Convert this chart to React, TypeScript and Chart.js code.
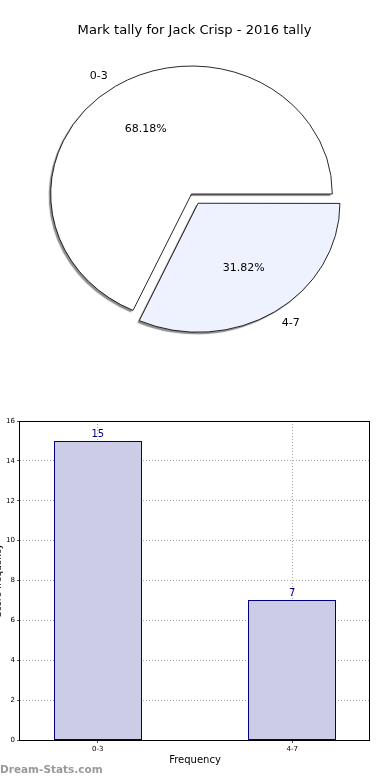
import { useEffect, useRef } from 'react';
import { Chart, registerables } from 'chart.js';

Chart.register(...registerables);

const TITLE = 'Mark tally for Jack Crisp - 2016 tally';
const categories = ['0-3', '4-7'];
const counts = [15, 7];
const pieColors = ['#ffffff', '#edf2fe'];
const explode = [0, 44];
const yTickStep = 2;
const yMax = 16;
const xAxisTitle = 'Frequency';
const yAxisTitle = 'Score frequency';
const WATERMARK = 'Dream-Stats.com';

const FONT = '"DejaVu Sans", "Liberation Sans", sans-serif';
const X_STRETCH = 1.1;
const OFFSET_FACTOR = 0.25;

const total = counts.reduce((a, b) => a + b, 0);
// pie drawn clockwise from 3 o'clock, so reverse to mimic counter-clockwise order
const pieLabels = [...categories].reverse();
const pieValues = [...counts].reverse();
const pieFill = [...pieColors].reverse();
const pieOffsets = [...explode].reverse();

const piePlugin = {
  id: 'ellipsePie',
  beforeDatasetsDraw(chart: any) {
    const meta = chart.getDatasetMeta(0);
    const a = meta.data[0];
    const ctx = chart.ctx;
    ctx.save();
    ctx.translate(a.x, a.y);
    ctx.scale(X_STRETCH, 1);
    ctx.translate(-a.x, -a.y);
    ctx.shadowColor = 'rgba(0,0,0,0.45)';
    ctx.shadowOffsetX = -2;
    ctx.shadowOffsetY = 2;
    ctx.shadowBlur = 1;
    // shadows only for fills, not for outlines
    const origStroke = ctx.stroke;
    (chart as any).$origStroke = origStroke;
    ctx.stroke = function (...args: any[]) {
      const sc = this.shadowColor;
      this.shadowColor = 'rgba(0,0,0,0)';
      origStroke.apply(this, args);
      this.shadowColor = sc;
    };
  },
  afterDatasetsDraw(chart: any) {
    const ctx = chart.ctx;
    if ((chart as any).$origStroke) {
      ctx.stroke = (chart as any).$origStroke;
      delete (chart as any).$origStroke;
    }
    ctx.restore();
    const meta = chart.getDatasetMeta(0);
    const ds = chart.data.datasets[0];
    ctx.save();
    ctx.font = `11px ${FONT}`;
    ctx.fillStyle = '#000';
    ctx.textBaseline = 'middle';
    meta.data.forEach((arc: any, i: number) => {
      const { x, y, startAngle, endAngle, outerRadius } = arc.getProps(
        ['x', 'y', 'startAngle', 'endAngle', 'outerRadius'],
        true
      );
      const mid = (startAngle + endAngle) / 2;
      const c = Math.cos(mid);
      const s = Math.sin(mid);
      const off = (ds.offset[i] || 0) * OFFSET_FACTOR;
      const cx = x + c * off * X_STRETCH;
      const cy = y + s * off;
      ctx.textAlign = c >= 0 ? 'left' : 'right';
      ctx.fillText(
        chart.data.labels[i],
        cx + c * outerRadius * 1.1 * X_STRETCH,
        cy + s * outerRadius * 1.1 + 1
      );
      ctx.textAlign = 'center';
      const pct = ((ds.data[i] / total) * 100).toFixed(2) + '%';
      ctx.fillText(pct, cx + c * outerRadius * 0.6 * X_STRETCH, cy + s * outerRadius * 0.6);
    });
    ctx.restore();
  },
};

const framePlugin = {
  id: 'frame',
  afterDatasetsDraw(chart: any) {
    const { ctx, chartArea } = chart;
    const meta = chart.getDatasetMeta(0);
    ctx.save();
    ctx.lineWidth = 1;
    // crisp bar outlines
    ctx.strokeStyle = '#000080';
    meta.data.forEach((bar: any) => {
      const { x, y, base, width } = bar.getProps(['x', 'y', 'base', 'width'], true);
      const l = Math.round(x - width / 2) + 0.5;
      const r = Math.round(x + width / 2) - 0.5;
      const t = Math.round(y) + 0.5;
      const b = Math.round(base) - 0.5;
      ctx.strokeRect(l, t, r - l, b - t);
    });
    ctx.strokeStyle = '#000';
    ctx.strokeRect(
      Math.round(chartArea.left) - 0.5,
      Math.round(chartArea.top) + 0.5,
      Math.round(chartArea.right - chartArea.left),
      Math.round(chartArea.bottom - chartArea.top)
    );
    ctx.restore();
  },
};

const valuePlugin = {
  id: 'values',
  afterDraw(chart: any) {
    const { ctx } = chart;
    const meta = chart.getDatasetMeta(0);
    ctx.save();
    ctx.font = `10px ${FONT}`;
    ctx.fillStyle = '#000080';
    ctx.textAlign = 'center';
    ctx.textBaseline = 'bottom';
    meta.data.forEach((bar: any, i: number) => {
      ctx.fillText(String(counts[i]), bar.x, bar.y - 2);
    });
    ctx.restore();
  },
};

export default function App() {
  const pieRef = useRef<HTMLCanvasElement>(null);
  const barRef = useRef<HTMLCanvasElement>(null);

  useEffect(() => {
    const pie = new Chart(pieRef.current!, {
      type: 'pie',
      data: {
        labels: pieLabels,
        datasets: [
          {
            data: pieValues,
            backgroundColor: pieFill,
            borderColor: '#000',
            borderWidth: 0.8,
            borderJoinStyle: 'miter',
            offset: pieOffsets,
            hoverOffset: 0,
          } as any,
        ],
      },
      options: {
        animation: false,
        responsive: false,
        rotation: 90,
        radius: 128,
        events: [],
        layout: { padding: { top: 37.6, left: 0, right: 7, bottom: 39.6 } },
        plugins: {
          legend: { display: false },
          tooltip: { enabled: false },
          title: { display: false },
        },
      } as any,
      plugins: [piePlugin],
    });

    const gridCommon = {
      color: 'rgba(0,0,0,0.35)',
      tickLength: 3,
      tickColor: '#555',
      tickBorderDash: [],
    };

    const bar = new Chart(barRef.current!, {
      type: 'bar',
      data: {
        datasets: [
          {
            data: counts.map((v, i) => ({ x: i, y: v })),
            backgroundColor: '#ccccE6',
            borderWidth: 0,
            barPercentage: 0.45,
            categoryPercentage: 1,
          } as any,
        ],
      },
      options: {
        animation: false,
        responsive: false,
        events: [],
        layout: { padding: { top: 21, right: 20, left: 0, bottom: 0 } },
        plugins: { legend: { display: false }, tooltip: { enabled: false } },
        scales: {
          x: {
            type: 'linear',
            min: -0.4,
            max: 1.4,
            offset: false,
            afterBuildTicks: (s: any) => {
              s.ticks = categories.map((_, i) => ({ value: i }));
            },
            afterFit: (s: any) => {
              s.height = 40;
            },
            ticks: {
              callback: (v: any) => categories[v] ?? '',
              font: { size: 7, family: FONT },
              color: '#000',
              padding: 2,
              maxRotation: 0,
              autoSkip: false,
            },
            grid: { ...gridCommon, offset: false },
            border: { display: false, dash: [1, 2] },
            title: {
              display: true,
              text: xAxisTitle,
              color: '#000',
              font: { size: 10, family: FONT },
              padding: { top: 0, bottom: 14 },
            },
          },
          y: {
            min: 0,
            max: yMax,
            afterFit: (s: any) => {
              s.width = 20;
            },
            ticks: {
              stepSize: yTickStep,
              font: { size: 7, family: FONT },
              color: '#000',
              padding: 2,
            },
            grid: gridCommon,
            border: { display: false, dash: [1, 2] },
            title: {
              display: true,
              text: yAxisTitle,
              color: '#000',
              font: { size: 9, family: FONT },
              padding: { top: -7, bottom: 0 },
            },
          },
        },
      } as any,
      plugins: [framePlugin, valuePlugin],
    });

    return () => {
      pie.destroy();
      bar.destroy();
    };
  }, []);

  return (
    <div style={{ position: 'absolute', left: 0, top: 0, width: 390, height: 780, background: '#fff' }}>
      <canvas
        ref={pieRef}
        width={390}
        height={390}
        style={{ position: 'absolute', left: 0, top: 0, width: 390, height: 390 }}
      />
      <div
        style={{
          position: 'absolute',
          left: 0,
          top: 22,
          width: 389,
          textAlign: 'center',
          fontFamily: FONT,
          fontSize: 13.1,
          lineHeight: '16px',
          color: '#000',
          whiteSpace: 'nowrap',
        }}
      >
        {TITLE}
      </div>
      <canvas
        ref={barRef}
        width={390}
        height={380}
        style={{ position: 'absolute', left: 0, top: 400, width: 390, height: 380 }}
      />
      <div
        style={{
          position: 'absolute',
          left: 0,
          top: 763,
          fontFamily: FONT,
          fontWeight: 'bold',
          fontSize: 10.5,
          lineHeight: '13px',
          color: '#999',
          whiteSpace: 'nowrap',
        }}
      >
        {WATERMARK}
      </div>
    </div>
  );
}
